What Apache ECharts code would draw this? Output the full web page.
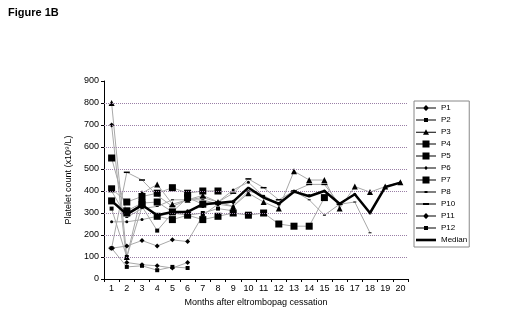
<!DOCTYPE html>
<html><head><meta charset="utf-8">
<script src="https://cdn.jsdelivr.net/npm/echarts@6/dist/echarts.min.js"></script>
<style>html,body{margin:0;padding:0;background:#fff}#c{width:520px;height:325px}</style>
</head><body><div id="c"></div>
<script>
const months = ['1','2','3','4','5','6','7','8','9','10','11','12','13','14','15','16','17','18','19','20'];
const yTicks = [0,100,200,300,400,500,600,700,800,900];
const gridValues = [100,200,300,400,500,600,700,800];
const P1  = [700, 75, 65, 60, 50, 75, null, null, null, null, null, null, null, null, null, null, null, null, null, null];
const P2  = [140, 55, 60, 40, 55, 50, null, null, null, null, null, null, null, null, null, null, null, null, null, null];
const P3  = [800, 100, 390, 430, 340, 360, 380, 350, 330, 390, 350, 320, 490, 450, 450, 320, 420, 395, 420, 440];
const P4  = [550, 300, 340, 285, 270, 290, 270, 285, 300, 290, 300, 250, 240, 240, 370, null, null, null, null, null];
const P5  = [410, 350, 375, 390, 415, 390, 400, 400, null, null, null, null, null, null, null, null, null, null, null, null];
const P6  = [260, 260, 270, 285, 300, 310, 330, 350, 405, 440, 375, 340, 400, 380, 400, 340, 385, 300, 418, 438];
const P7  = [355, 310, 345, 350, 305, 370, 340, null, null, null, null, null, null, null, null, null, null, null, null, null];
const P8  = [400, 280, 320, 330, 360, 360, 360, 340, 330, 400, 380, 340, 400, 360, 290, 340, 350, 210, null, null];
const P10 = [140, 485, 450, 380, 330, 360, 370, 350, 390, 455, 415, 360, 400, 430, 430, 340, null, null, null, null];
const P11 = [140, 150, 175, 150, 178, 170, 290, 340, 350, null, null, null, null, null, null, null, null, null, null, null];
const P12 = [320, 100, 330, 220, 300, 290, 300, 320, 310, null, null, null, null, null, null, null, null, null, null, null];
const Median = [355, 294, 336, 290, 305, 305, 340, 345, 352, 415, 370, 342, 397, 376, 400, 342, 385, 300, 418, 438];

const chart = echarts.init(document.getElementById('c'));
const diamond = 'path://M0,-1L1,0L0,1L-1,0Z';
const LINE = 'M0,-0.5L20,-0.5L20,0.5L0,0.5Z';
const icons = {
  P1: 'path://' + LINE + 'M10,-3L13,0L10,3L7,0Z',
  P2: 'path://' + LINE + 'M8,-2L12,-2L12,2L8,2Z',
  P3: 'path://' + LINE + 'M10,-3L13,2.5L7,2.5Z',
  P4: 'path://' + LINE + 'M6.5,-3.5L13.5,-3.5L13.5,3.5L6.5,3.5Z',
  P5: 'path://' + LINE + 'M6.5,-3.5L13.5,-3.5L13.5,3.5L6.5,3.5Z',
  P6: 'path://' + LINE + 'M10,-2L12,0L10,2L8,0Z',
  P7: 'path://' + LINE + 'M6.5,-3.5L13.5,-3.5L13.5,3.5L6.5,3.5Z',
  P8: 'path://' + LINE + 'M8.5,-1L11.5,-1L11.5,1L8.5,1Z',
  P10: 'path://' + LINE + 'M7,-1L13,-1L13,1L7,1Z',
  P11: 'path://' + LINE + 'M10,-3L13,0L10,3L7,0Z',
  P12: 'path://' + LINE + 'M8,-2L12,-2L12,2L8,2Z',
  Median: 'path://M0,-1.3L20,-1.3L20,1.3L0,1.3Z'
};
function s(name, data, symbol, size) {
  return {
    name, type: 'line', data, symbol, symbolSize: size, connectNulls: false,
    lineStyle: {color: '#a8a8a8', width: 1},
    itemStyle: {color: '#000'},
    emphasis: {disabled: true}, animation: false
  };
}
const series = [
  s('P1', P1, diamond, 5),
  s('P2', P2, 'rect', 4),
  s('P3', P3, 'triangle', 6),
  s('P4', P4, 'rect', 7),
  s('P5', P5, 'rect', 7),
  s('P6', P6, 'circle', 3),
  s('P7', P7, 'rect', 7),
  s('P8', P8, 'rect', [3,1]),
  s('P10', P10, 'rect', [6,1.5]),
  s('P11', P11, diamond, 5),
  s('P12', P12, 'rect', 4),
  {name: 'Median', type: 'line', data: Median, symbol: 'none', lineStyle: {color: '#000', width: 2.5}, itemStyle:{color:'#000'}, animation:false, z: 5},
  {name: 'grid', type: 'line', data: [], silent: true, animation: false, z: 1,
   markLine: {silent: true, symbol: 'none', label: {show: false},
     lineStyle: {color: '#9a7fa6', type: 'dotted', width: 1},
     data: gridValues.map(v => ({yAxis: v}))}}
];
const names = ['P1','P2','P3','P4','P5','P6','P7','P8','P10','P11','P12','Median'];

chart.setOption({
  animation: false,
  textStyle: {fontFamily: 'Liberation Sans, Arial, sans-serif'},
  grid: {left: 104, right: 112, top: 81, bottom: 46},
  graphic: [{type: 'text', left: 8, top: 7, style: {text: 'Figure 1B', font: 'bold 11px Liberation Sans, Arial, sans-serif', fill: '#000'}}],
  legend: {
    orient: 'vertical', left: 414, top: 101, itemWidth: 20, itemHeight: 9, itemGap: 4,
    padding: [3, 2, 3, 2], borderColor: '#888', borderWidth: 1,
    textStyle: {fontSize: 8, color: '#000'},
    itemStyle: {color: '#000', borderWidth: 0},
    data: names.map(n => ({name: n, icon: icons[n]}))
  },
  xAxis: {
    type: 'category', data: months, boundaryGap: true,
    name: 'Months after eltrombopag cessation', nameLocation: 'middle', nameGap: 15,
    nameTextStyle: {fontSize: 9, color: '#000'},
    axisLine: {lineStyle: {color: '#000', width: 1}},
    axisTick: {show: true, length: 3, lineStyle: {color: '#000'}},
    axisLabel: {fontSize: 9, color: '#000', margin: 5}
  },
  yAxis: {
    type: 'value', min: 0, max: 900, interval: 100,
    name: 'Platelet count (x10\u2079/L)', nameLocation: 'middle', nameGap: 31, nameRotate: 90,
    nameTextStyle: {fontSize: 9, color: '#000'},
    axisLine: {show: true, lineStyle: {color: '#000', width: 1}},
    axisTick: {show: true, length: 3, lineStyle: {color: '#000'}},
    axisLabel: {fontSize: 9, color: '#000', margin: 5, formatter: v => yTicks.includes(v) ? String(v) : ''},
    splitLine: {show: false}
  },
  series
});
</script></body></html>
